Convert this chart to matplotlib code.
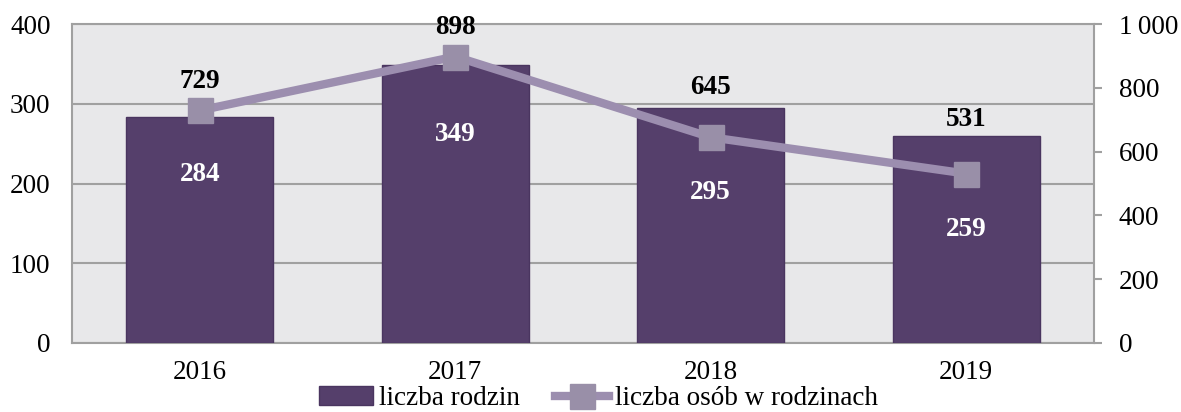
import matplotlib
matplotlib.use("Agg")
import matplotlib.pyplot as plt
from matplotlib.ticker import FuncFormatter

years = ["2016", "2017", "2018", "2019"]
families = [284, 349, 295, 259]
persons = [729, 898, 645, 531]
left_ticks = [0, 100, 200, 300, 400]
right_ticks = [0, 200, 400, 600, 800, 1000]

# label offsets (points) - styling only
bar_label_dy = [-42, -50, -61, -67]
line_label_dy = [21, 21, 36, 39]

plt.rcParams['font.family'] = ['Liberation Serif', 'DejaVu Serif']

fig = plt.figure(figsize=(11.81, 4.12), dpi=100)
ax = fig.add_axes([0.061, 0.1675, 0.8653, 0.7742])
ax2 = ax.twinx()

bg = '#E8E8EA'
grid_c = '#A0A0A0'
bar_c = '#553F6B'
line_c = '#9C8EAF'
mark_c = '#998FA8'
fs_tick = 19.5
fs_lab = 19.5

ax.set_facecolor(bg)
x = list(range(len(years)))
bars = ax.bar(x, families, width=0.575, color=bar_c, edgecolor='#4A3560', linewidth=1, zorder=3,
              label='liczba rodzin')
ax.set_xlim(-0.5, 3.5)
ax.set_ylim(0, 400)
ax.set_yticks(left_ticks)
ax.yaxis.grid(True, color=grid_c, linewidth=1.5, zorder=0)
ax.set_axisbelow(True)
ax.tick_params(axis='y', length=0, pad=15.5, labelsize=fs_tick)
ax.tick_params(axis='x', length=0, pad=12, labelsize=fs_tick)
ax.set_xticks(x)
ax.set_xticklabels(years)
for s in ['left', 'bottom', 'top']:
    ax.spines[s].set_color(grid_c)
    ax.spines[s].set_linewidth(1.5)
ax.spines['right'].set_visible(False)

line, = ax2.plot(x, persons, color=line_c, linewidth=6, marker='s', markersize=18,
                 markerfacecolor=mark_c, markeredgecolor=mark_c, zorder=4,
                 label='liczba osób w rodzinach')
ax2.set_ylim(0, 1000)
ax2.set_yticks(right_ticks)
ax2.yaxis.set_major_formatter(FuncFormatter(lambda v, p: f"{int(v):,}".replace(",", "\u2009")))
ax2.tick_params(axis='y', length=6, width=1.5, color=grid_c, pad=12, labelsize=fs_tick)
for s in ['left', 'bottom', 'top']:
    ax2.spines[s].set_visible(False)
ax2.spines['right'].set_color(grid_c)
ax2.spines['right'].set_linewidth(1.5)

for i, v in enumerate(families):
    ax.annotate(str(v), (x[i], v), xytext=(0, bar_label_dy[i]), textcoords='offset points',
                ha='center', va='center', color='white', fontsize=fs_lab, fontweight='bold', zorder=5)
for i, v in enumerate(persons):
    ax2.annotate(str(v), (x[i], v), xytext=(0, line_label_dy[i]), textcoords='offset points',
                 ha='center', va='center', color='black', fontsize=fs_lab, fontweight='bold', zorder=5)

fig.legend([bars, line], ['liczba rodzin', 'liczba osób w rodzinach'], loc='center',
           bbox_to_anchor=(0.507, 0.032), ncol=2, frameon=False, fontsize=fs_lab,
           handlelength=2.0, handletextpad=0.22, columnspacing=1.3, borderpad=0)

fig.savefig('out.png', dpi=100)
